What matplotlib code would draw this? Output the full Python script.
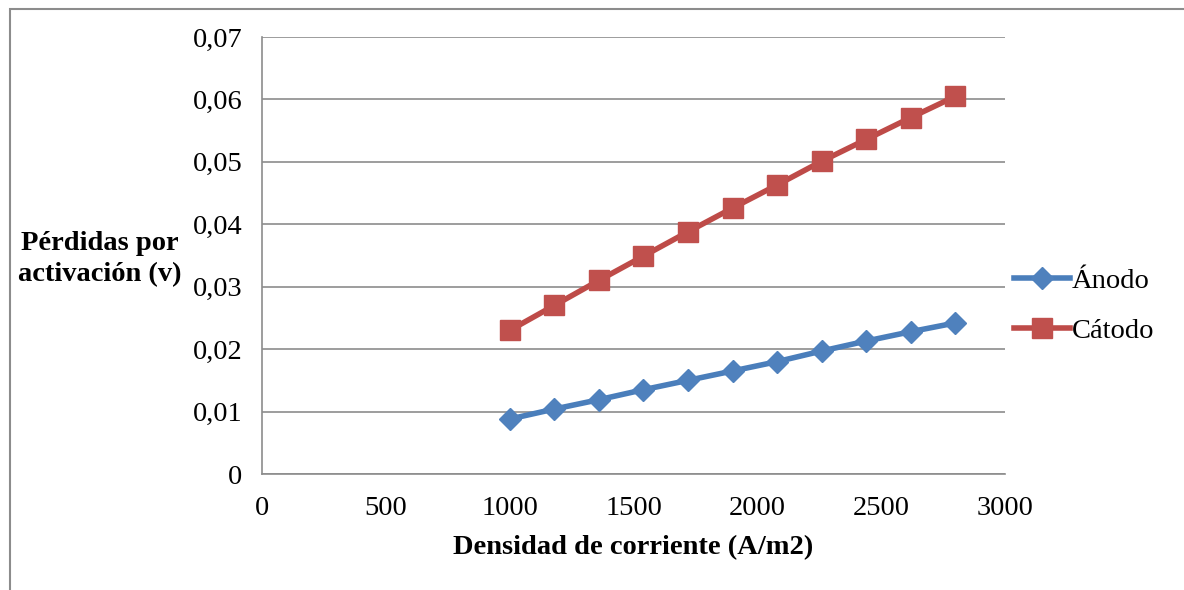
import matplotlib
matplotlib.use("Agg")
import matplotlib.pyplot as plt
from matplotlib.patches import Rectangle

x_vals = [1000, 1180, 1360, 1540, 1720, 1900, 2080, 2260, 2440, 2620, 2800]
anodo = [0.0088, 0.0104, 0.0119, 0.0135, 0.0150, 0.0165, 0.0180, 0.0197, 0.0213, 0.0228, 0.0242]
catodo = [0.0230, 0.0270, 0.0310, 0.0349, 0.0388, 0.0426, 0.0463, 0.0501, 0.0536, 0.0571, 0.0605]
y_ticks = [0, 0.01, 0.02, 0.03, 0.04, 0.05, 0.06, 0.07]
y_tick_labels = ["0", "0,01", "0,02", "0,03", "0,04", "0,05", "0,06", "0,07"]
x_ticks = [0, 500, 1000, 1500, 2000, 2500, 3000]

plt.rcParams['font.family'] = ['Liberation Serif', 'DejaVu Serif']

W, H = 1184, 590
fig = plt.figure(figsize=(W / 100, H / 100), dpi=100)

# outer frame (partially visible)
fig.patches.append(Rectangle((9.5 / W, -0.1), 1.2, (H - 8.5) / H + 0.1,
                             transform=fig.transFigure, fill=False,
                             edgecolor='#8c8c8c', linewidth=1.5))

ax = fig.add_axes([262 / W, 1 - 474 / H, (1005 - 262) / W, (474 - 37) / H])
ax.set_xlim(0, 3000)
ax.set_ylim(0, 0.07)
ax.set_yticks(y_ticks)
ax.set_yticklabels(y_tick_labels)
ax.set_xticks(x_ticks)
ax.set_xticklabels([str(t) for t in x_ticks])
ax.tick_params(length=0, labelsize=20.5)
ax.tick_params(axis='y', pad=14)
ax.tick_params(axis='x', pad=16)
ax.grid(axis='y', color='#8c8c8c', linewidth=1.2)
ax.set_axisbelow(True)
for s in ['top', 'right']:
    ax.spines[s].set_visible(False)
for s in ['left', 'bottom']:
    ax.spines[s].set_color('#8c8c8c')
    ax.spines[s].set_linewidth(1.2)

ax.plot(x_vals, anodo, color='#4a7ebb', linewidth=4, marker='D', markersize=11,
        markerfacecolor='#4f81bd', markeredgecolor='#4f81bd', label='Ánodo')
ax.plot(x_vals, catodo, color='#be4b48', linewidth=4, marker='s', markersize=14,
        markerfacecolor='#c0504d', markeredgecolor='#c0504d', label='Cátodo')

ax.set_xlabel('Densidad de corriente (A/m2)', fontsize=20.5, fontweight='bold', labelpad=10)
fig.text(100 / W, 1 - 259 / H, 'Pérdidas por\nactivación (v)', fontsize=20.5,
         fontweight='bold', ha='center', va='center', linespacing=1.3)

leg = ax.legend(loc='center left', bbox_to_anchor=(1.0, 0.385), frameon=False,
                fontsize=20.5, handlelength=2.0, handletextpad=0.05, labelspacing=0.85,
                borderaxespad=0.0, borderpad=0.3)

fig.savefig('out.png', dpi=100)
